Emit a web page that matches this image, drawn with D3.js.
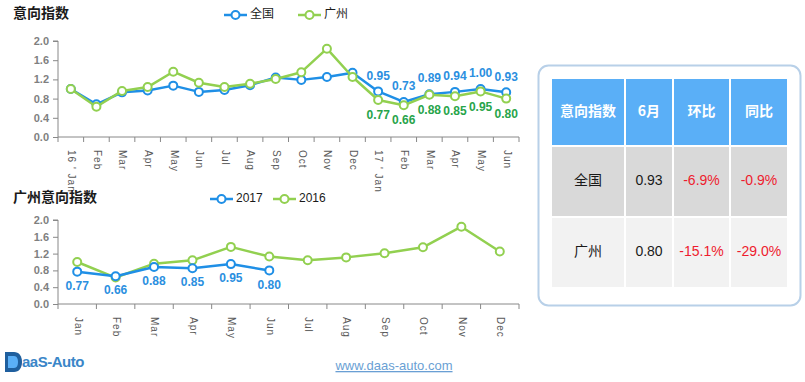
<!DOCTYPE html>
<html>
<head>
<meta charset="utf-8">
<script src="https://cdn.jsdelivr.net/npm/d3@7"></script>
<style>
  body { margin: 0; background: #fff; }
  svg { display: block; font-family: "Liberation Sans", Arial, sans-serif; }
</style>
</head>
<body>
<svg id="chart" width="805" height="382"></svg>
<script>
// 上图：18个月
const monthsTop = ["16 ' Jan", "Feb", "Mar", "Apr", "May", "Jun", "Jul", "Aug", "Sep", "Oct", "Nov", "Dec",
  "17 ' Jan", "Feb ", "Mar ", "Apr ", "May ", "Jun "];
const nationTop = [1.00, 0.68, 0.93, 0.97, 1.07, 0.94, 0.98, 1.08, 1.24, 1.19, 1.25, 1.34, 0.95, 0.73, 0.89, 0.94, 1.00, 0.93];
const gzTop = [1.00, 0.63, 0.96, 1.04, 1.36, 1.13, 1.04, 1.11, 1.21, 1.35, 1.84, 1.25, 0.77, 0.66, 0.88, 0.85, 0.95, 0.80];

// 下图：广州 2017 vs 2016
const monthsBottom = ["Jan", "Feb", "Mar", "Apr", "May", "Jun", "Jul", "Aug", "Sep", "Oct", "Nov", "Dec"];
const gz2017 = [0.77, 0.66, 0.88, 0.85, 0.95, 0.80];
const gz2016 = [1.00, 0.63, 0.96, 1.04, 1.36, 1.13, 1.04, 1.11, 1.21, 1.35, 1.84, 1.25];

const yTicks = [0, 0.4, 0.8, 1.2, 1.6, 2.0];

// 表格
const tableHeader = ["意向指数", "6月", "环比", "同比"];
const tableRows = [
  ["全国", "0.93", "-6.9%", "-0.9%"],
  ["广州", "0.80", "-15.1%", "-29.0%"]
];

const blue = "#1f8fe6";
const green = "#92d050";
const blueLabel = "#2b8fe0";
const greenLabel = "#27a44a";
const cjk = "'Noto Sans CJK SC', sans-serif";

const svg = d3.select("#chart");

function drawChart(opt) {
  const g = svg.append("g");
  const x = d3.scaleBand().domain(d3.range(opt.cats.length)).range([opt.x0, opt.x1]);
  const y = d3.scaleLinear().domain([0, 2]).range([opt.y0, opt.y1]);

  // y 轴
  const yAxis = d3.axisLeft(y).tickValues(yTicks).tickFormat(d3.format(".1f")).tickSize(5).tickPadding(4);
  const ya = g.append("g").attr("transform", `translate(${opt.x0},0)`).call(yAxis);
  ya.select(".domain").attr("stroke", "#888").attr("d", `M-5,${opt.y1}H0V${opt.y0}`);
  ya.selectAll(".tick line").attr("stroke", "#888");
  ya.selectAll(".tick text").attr("fill", "#7f7f7f").attr("font-size", 11).attr("font-weight", "bold")
    .attr("font-family", "'Liberation Sans', Arial, sans-serif");

  // x 轴（刻度在类别边界）
  g.append("line").attr("x1", opt.x0).attr("x2", opt.x1).attr("y1", opt.y0).attr("y2", opt.y0).attr("stroke", "#888");
  const bounds = opt.cats.map((c, i) => x(i)).concat([opt.x1]);
  g.selectAll(".xt").data(bounds).enter().append("line")
    .attr("x1", d => d).attr("x2", d => d).attr("y1", opt.y0).attr("y2", opt.y0 + 5).attr("stroke", "#888");
  g.selectAll(".xl").data(opt.cats).enter().append("text")
    .attr("transform", (d, i) => `translate(${x(i) + x.bandwidth() / 2},${opt.y0 + 13}) rotate(90)`)
    .attr("dominant-baseline", "middle")
    .attr("font-size", 10).attr("fill", "#595959").attr("letter-spacing", 1)
    .text(d => d.trim());

  const line = d3.line().x((d, i) => x(i) + x.bandwidth() / 2).y(d => y(d));

  opt.series.forEach(s => {
    g.append("path").datum(s.values).attr("d", line)
      .attr("fill", "none").attr("stroke", s.color).attr("stroke-width", 2.5).attr("stroke-linejoin", "round");
    g.selectAll(null).data(s.values).enter().append("circle")
      .attr("cx", (d, i) => x(i) + x.bandwidth() / 2).attr("cy", d => y(d)).attr("r", 4)
      .attr("fill", "#fff").attr("stroke", s.color).attr("stroke-width", 2);
    if (s.labelFrom !== undefined) {
      g.selectAll(null).data(s.values.map((v, i) => [v, i]).filter(d => d[1] >= s.labelFrom)).enter().append("text")
        .attr("x", d => x(d[1]) + x.bandwidth() / 2).attr("y", d => y(d[0]) + s.labelDy)
        .attr("text-anchor", "middle").attr("dominant-baseline", "middle")
        .attr("font-size", 12).attr("font-weight", "bold").attr("fill", s.labelColor)
        .text(d => d[0].toFixed(2));
    }
  });

  // 标题
  g.append("text").attr("x", 13).attr("y", opt.titleY).attr("dominant-baseline", "middle")
    .attr("font-family", cjk).attr("font-weight", "bold").attr("font-size", 14).attr("fill", "#1a1a1a")
    .text(opt.title);

  // 图例
  opt.legend.forEach(l => {
    const lg = g.append("g").attr("transform", `translate(${l.x},${opt.titleY + 1})`);
    lg.append("line").attr("x1", 0).attr("x2", 23).attr("stroke", l.color).attr("stroke-width", 2.5);
    lg.append("circle").attr("cx", 11.5).attr("r", 4).attr("fill", "#fff").attr("stroke", l.color).attr("stroke-width", 2);
    lg.append("text").attr("x", 26).attr("dominant-baseline", "middle").attr("font-size", 12)
      .attr("font-family", l.cjk ? cjk : null).attr("fill", "#1a1a1a").text(l.name);
  });
}

drawChart({
  cats: monthsTop, x0: 58, x1: 519, y0: 137, y1: 41,
  title: "意向指数", titleY: 14,
  series: [
    { values: nationTop, color: blue, labelFrom: 12, labelDy: -15, labelColor: blueLabel },
    { values: gzTop, color: green, labelFrom: 12, labelDy: 16, labelColor: greenLabel }
  ],
  legend: [
    { x: 224, name: "全国", color: blue, cjk: true },
    { x: 298, name: "广州", color: green, cjk: true }
  ]
});

drawChart({
  cats: monthsBottom, x0: 58, x1: 519, y0: 304, y1: 220,
  title: "广州意向指数", titleY: 198,
  series: [
    { values: gz2016, color: green },
    { values: gz2017, color: blue, labelFrom: 0, labelDy: 15, labelColor: blueLabel }
  ],
  legend: [
    { x: 210, name: "2017", color: blue },
    { x: 273, name: "2016", color: green }
  ]
});

// 右侧表格
svg.append("rect").attr("x", 538.5).attr("y", 65.5).attr("width", 262).attr("height", 240)
  .attr("rx", 10).attr("fill", "#fff").attr("stroke", "#b8d0e8").attr("stroke-width", 2);

const colX = [552, 626, 674, 731, 789];
const rowY = [79, 147, 218, 289];
const rowFill = ["#5aaff7", "#d9d9d9", "#f2f2f2"];
const allRows = [tableHeader].concat(tableRows);
allRows.forEach((row, r) => {
  row.forEach((cell, c) => {
    svg.append("rect").attr("x", colX[c]).attr("y", rowY[r])
      .attr("width", colX[c + 1] - colX[c] - 2).attr("height", rowY[r + 1] - rowY[r] - 2)
      .attr("fill", rowFill[r]);
    const isRed = r > 0 && c >= 2;
    svg.append("text")
      .attr("x", (colX[c] + colX[c + 1] - 2) / 2).attr("y", (rowY[r] + rowY[r + 1] - 2) / 2)
      .attr("text-anchor", "middle").attr("dominant-baseline", "middle")
      .attr("font-size", 14)
      .attr("font-family", /[\u4e00-\u9fff]/.test(cell) ? cjk : null)
      .attr("font-weight", r === 0 ? "bold" : "normal")
      .attr("fill", r === 0 ? "#fff" : (isRed ? "#ee1c2e" : "#1a1a1a"))
      .text(cell);
  });
});

// logo 与网址
const logo = svg.append("g").attr("transform", "translate(5,352)");
logo.append("path").attr("d", "M0,0H9C14,0 17,4 17,10C17,16 14,20 9,20H0Z").attr("fill", "#1f5f9e");
logo.append("path").attr("d", "M3,4H9C12,4 13,7 13,10C13,13 12,16 9,16H3Z").attr("fill", "#5aaff7");
logo.append("text").attr("x", 17).attr("y", 15).attr("font-size", 15).attr("font-weight", "bold")
  .attr("fill", "#3a86c8").attr("letter-spacing", -0.5).text("aaS-Auto");

svg.append("text").attr("x", 394).attr("y", 370).attr("text-anchor", "middle")
  .attr("font-size", 13).attr("fill", "#6a9fd4").attr("text-decoration", "underline")
  .text("www.daas-auto.com");
</script>
</body>
</html>
